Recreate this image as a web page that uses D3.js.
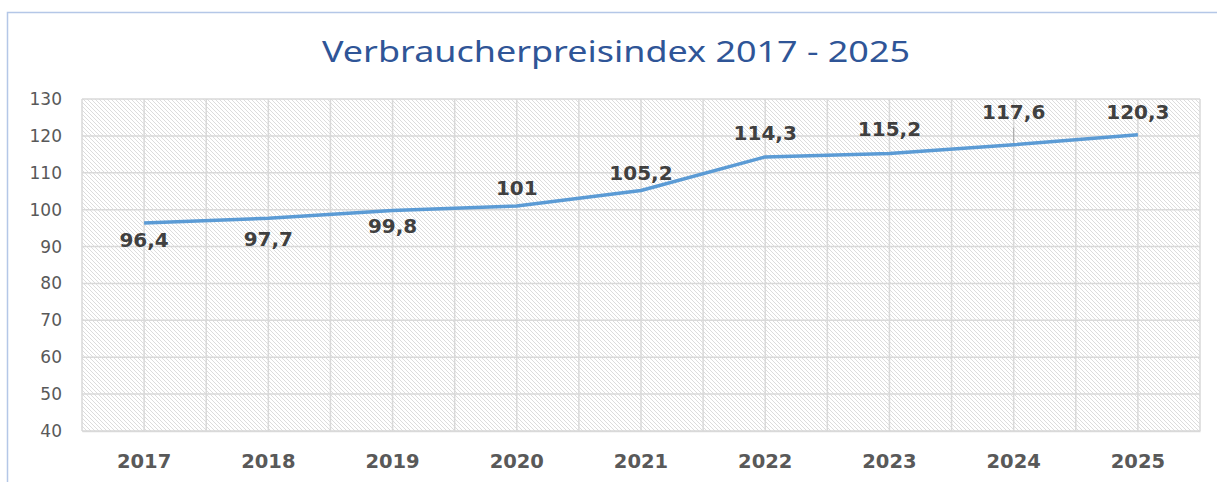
<!DOCTYPE html>
<html><head><meta charset="utf-8">
<script src="https://cdn.jsdelivr.net/npm/d3@7"></script>
<style>body{margin:0;background:#fff;}svg{display:block;}</style>
</head><body><div id="chart"></div>
<script>
const years = ["2017","2018","2019","2020","2021","2022","2023","2024","2025"];
const values = [96.4, 97.7, 99.8, 101, 105.2, 114.3, 115.2, 117.6, 120.3];
const labels = ["96,4","97,7","99,8","101","105,2","114,3","115,2","117,6","120,3"];
const yTicks = [40,50,60,70,80,90,100,110,120,130];
const title = "Verbraucherpreisindex 2017 - 2025";

// label offsets (px from point to baseline)
const labelDy = [24, 28, 23, -11, -10, -17, -18, -26, -16];

const W = 1217, H = 482;
const m = {left: 82, right: 1200, top: 99, bottom: 431};
const svg = d3.select("#chart").append("svg").attr("width", W).attr("height", H);

const defs = svg.append("defs");
const pat = defs.append("pattern").attr("id","hatch").attr("patternUnits","userSpaceOnUse")
  .attr("width",4).attr("height",4);
pat.append("rect").attr("width",4).attr("height",4).attr("fill","#fff");
pat.append("path").attr("d","M-1,-1 L5,5 M-1,3 L1,5 M3,-1 L5,1").attr("stroke","#d8d8d8").attr("stroke-width",0.9);

svg.append("path").attr("d",`M7.5,${H} L7.5,12.5 L${W},12.5`).attr("fill","none").attr("stroke","#b4c7e7").attr("stroke-width",1.5);

svg.append("text").attr("x",616).attr("y",62).attr("text-anchor","middle")
  .attr("font-family","Noto Sans, sans-serif").attr("font-size",29).attr("fill","#2f5597")
  .attr("textLength",588).attr("lengthAdjust","spacingAndGlyphs").text(title);

const x = d3.scaleBand().domain(years).range([m.left, m.right]).padding(0);
const y = d3.scaleLinear().domain([40,130]).range([m.bottom, m.top]);

svg.append("rect").attr("x",m.left).attr("y",m.top).attr("width",m.right-m.left).attr("height",m.bottom-m.top).attr("fill","url(#hatch)");

const g = svg.append("g");
g.selectAll("line.h").data(yTicks).join("line").attr("x1",m.left).attr("x2",m.right)
  .attr("y1",d=>y(d)).attr("y2",d=>y(d)).attr("stroke","#d9d9d9").attr("stroke-width",1.5);
const vx = [];
years.forEach(d=>{vx.push(x(d)); vx.push(x(d)+x.bandwidth()/2);});
vx.push(m.right);
g.selectAll("line.v").data(vx).join("line").attr("x1",d=>d).attr("x2",d=>d)
  .attr("y1",m.top).attr("y2",m.bottom).attr("stroke","#d9d9d9").attr("stroke-width",1.5);

const yAxis = svg.append("g").attr("transform",`translate(${m.left},0)`)
  .call(d3.axisLeft(y).tickValues(yTicks).tickSize(0).tickPadding(20).tickFormat(d3.format("d")));
yAxis.select(".domain").remove();
yAxis.selectAll("text").attr("font-family","DejaVu Sans, sans-serif").attr("font-size",17).attr("fill","#595959");

const xAxis = svg.append("g").attr("transform",`translate(0,${m.bottom})`)
  .call(d3.axisBottom(x).tickSize(0).tickPadding(0));
xAxis.select(".domain").attr("stroke","#d9d9d9").attr("stroke-width",1.5);
xAxis.selectAll("text").attr("dy",null).attr("y",37).attr("font-family","DejaVu Sans, sans-serif").attr("font-size",19.5).attr("font-weight","bold").attr("fill","#595959");

const cx = d => x(d) + x.bandwidth()/2;
const line = d3.line().x((d,i)=>cx(years[i])).y(d=>y(d));
svg.append("path").datum(values).attr("d",line).attr("fill","none").attr("stroke","#5b9bd5").attr("stroke-width",3.5).attr("stroke-linejoin","round");

svg.append("line").attr("x1",cx("2024")).attr("x2",cx("2024")).attr("y1",y(values[7])-2).attr("y2",y(values[7])-17).attr("stroke","#a6a6a6").attr("stroke-width",1);

svg.selectAll("text.lbl").data(values).join("text").attr("class","lbl")
  .attr("x",(d,i)=>cx(years[i])).attr("y",(d,i)=> y(d)+labelDy[i])
  .attr("text-anchor","middle").attr("font-family","DejaVu Sans, sans-serif").attr("font-size",20).attr("font-weight","bold").attr("fill","#404040")
  .text((d,i)=>labels[i]);
</script></body></html>
